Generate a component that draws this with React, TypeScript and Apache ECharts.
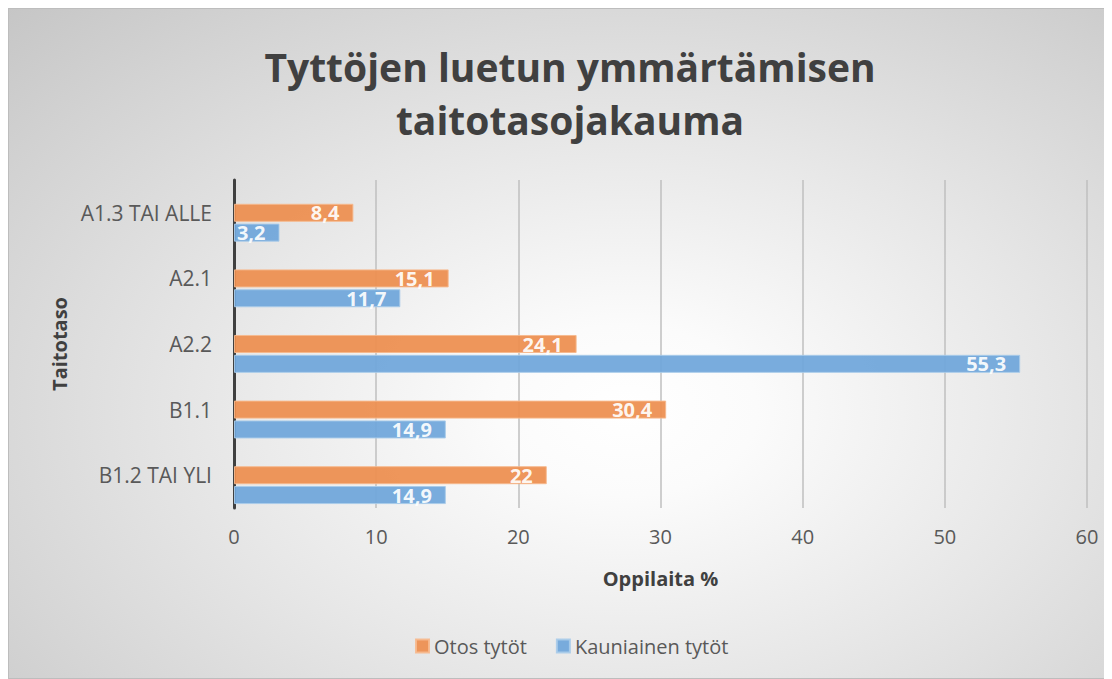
import React, { useEffect, useRef } from "react";
import * as echarts from "echarts";

const categories = ["A1.3 TAI ALLE", "A2.1", "A2.2", "B1.1", "B1.2 TAI YLI"];
const otosTytot = [8.4, 15.1, 24.1, 30.4, 22];
const kauniainenTytot = [3.2, 11.7, 55.3, 14.9, 14.9];
const emptySeries = [null, null, null, null, null];
const seriesNames = ["Otos tytöt", "Kauniainen tytöt"];
const titleText = "Tyttöjen luetun ymmärtämisen\ntaitotasojakauma";
const xMin = 0;
const xMax = 60;
const xInterval = 10;

const ORANGE = "#ED8E4F";
const BLUE = "#6FA6DA";
const FONT = "'Open Sans', sans-serif";

export default function App() {
  const ref = useRef<HTMLDivElement>(null);
  useEffect(() => {
    if (!ref.current) return;
    const chart = echarts.init(ref.current, null, { renderer: "svg" });
    const fmt = (p: any) => String(p.value).replace(".", ",");
    const label = {
      show: true,
      position: "insideRight",
      distance: 14,
      color: "#ffffff",
      fontWeight: "bold",
      fontSize: 20,
      fontFamily: FONT,
      formatter: fmt,
    };
    chart.setOption({
      animation: false,
      backgroundColor: "transparent",
      textStyle: { fontFamily: FONT },
      graphic: [
        {
          type: "text",
          x: 561,
          y: 31,
          style: {
            text: titleText,
            textAlign: "center",
            textVerticalAlign: "top",
            fontFamily: FONT,
            fontWeight: "bold",
            fontSize: 39,
            lineHeight: 53,
            fill: "#404040",
          },
        },
      ],
      legend: {
        data: seriesNames,
        left: 401,
        top: 622,
        icon: "rect",
        itemWidth: 13,
        itemHeight: 13,
        itemGap: 29,
        textStyle: { fontSize: 20, color: "#595959", fontFamily: FONT },
      },
      grid: { left: 225, right: 24, top: 171, bottom: 170, containLabel: false },
      xAxis: {
        type: "value",
        min: xMin,
        max: xMax,
        interval: xInterval,
        axisLine: { show: false },
        axisTick: { show: false },
        splitLine: { lineStyle: { color: "#bfbfbf", width: 1.5 } },
        axisLabel: { fontSize: 20, color: "#595959", margin: 18, fontFamily: FONT },
        name: "Oppilaita %",
        nameLocation: "middle",
        nameGap: 60,
        nameTextStyle: { fontWeight: "bold", fontSize: 20, color: "#404040", fontFamily: FONT },
      },
      yAxis: {
        type: "category",
        data: categories,
        inverse: true,
        axisLine: { show: true, lineStyle: { color: "#404040", width: 3 } },
        axisTick: { show: false },
        axisLabel: { fontSize: 21, color: "#595959", margin: 22, fontFamily: FONT },
        name: "Taitotaso",
        nameLocation: "middle",
        nameGap: 160,
        nameRotate: 90,
        nameTextStyle: { fontWeight: "bold", fontSize: 20, color: "#404040", fontFamily: FONT },
      },
      series: [
        {
          type: "bar",
          name: "",
          data: emptySeries,
          silent: true,
          barCategoryGap: "12%",
          barGap: "10%",
        },
        {
          type: "bar",
          name: seriesNames[0],
          data: otosTytot,
          barCategoryGap: "12%",
          barGap: "10%",
          itemStyle: { color: ORANGE, opacity: 0.93, borderColor: "#F6B98E", borderWidth: 1 },
          label,
        },
        {
          type: "bar",
          name: seriesNames[1],
          data: kauniainenTytot,
          barCategoryGap: "12%",
          barGap: "10%",
          itemStyle: { color: BLUE, opacity: 0.93, borderColor: "#A9CBEA", borderWidth: 1 },
          label,
        },
      ],
    });
    return () => chart.dispose();
  }, []);
  return (
    <div
      style={{
        width: 1104,
        height: 671,
        boxSizing: "border-box",
        border: "1px solid #bdbdbd",
        background:
          "radial-gradient(farthest-corner at 56% 60%, #ffffff 0%, #fbfbfb 15%, #e6e6e6 50%, #d3d3d3 80%, #c6c6c6 100%)",
      }}
    >
      <div ref={ref} style={{ width: "100%", height: "100%" }} />
    </div>
  );
}
